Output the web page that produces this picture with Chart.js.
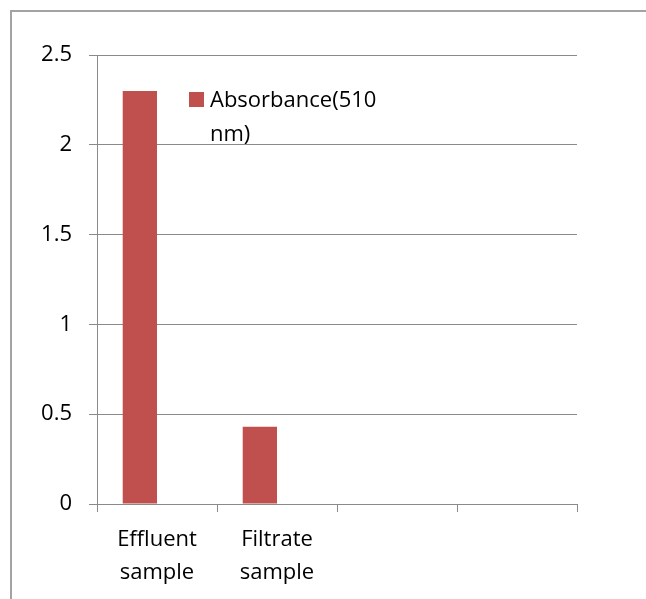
<!DOCTYPE html>
<html>
<head>
<meta charset="utf-8">
<script src="https://cdn.jsdelivr.net/npm/chart.js@4/dist/chart.umd.min.js"></script>
<style>
  html, body { margin: 0; padding: 0; background: #fff; overflow: hidden; }
  #wrap { position: relative; width: 646px; height: 599px; overflow: hidden; }
  #frame { position: absolute; left: 10px; top: 10px; width: 700px; height: 700px;
           border-left: 2px solid #a3a3a3; border-top: 2px solid #a3a3a3; box-sizing: border-box; }
  canvas { position: absolute; left: 0; top: 0; }
</style>
</head>
<body>
<div id="wrap">
  <div id="frame"></div>
  <canvas id="c" width="646" height="599"></canvas>
</div>
<script>
// Samples on the category axis (two extra empty slots)
const categories = [['Effluent', 'sample'], ['Filtrate', 'sample'], '', ''];
// Absorbance readings at 510 nm
const absorbance = [2.3, 0.43, null, null];
// Second series of the workbook, left empty
const secondSeries = [null, null, null, null];
const seriesName = 'Absorbance(510 nm)';
const yTicks = { min: 0, max: 2.5, step: 0.5 };

const FONT = { family: "'Open Sans', sans-serif", size: 22 };
const LINE = '#8a8a8a';
const BAR = '#C0504D';

// Wrapped legend drawn inside the plot area
const legendInside = {
  id: 'legendInside',
  afterDraw(chart) {
    const ctx = chart.ctx;
    const a = chart.chartArea;
    const x = a.left + 92, y = a.top + 37;
    ctx.save();
    ctx.fillStyle = BAR;
    ctx.fillRect(x, y, 15, 15);
    ctx.font = FONT.size + 'px ' + FONT.family;
    ctx.fillStyle = '#000';
    ctx.textBaseline = 'alphabetic';
    ctx.textAlign = 'left';
    const words = seriesName.split(' ');
    const lines = [];
    let cur = '';
    words.forEach(w => {
      const t = cur ? cur + ' ' + w : w;
      if (cur && ctx.measureText(t).width > 180) { lines.push(cur); cur = w; }
      else cur = t;
    });
    lines.push(cur);
    lines.forEach((ln, i) => ctx.fillText(ln, x + 21, y + 15 + i * 34));
    ctx.restore();
  }
};

new Chart(document.getElementById('c'), {
  type: 'bar',
  data: {
    labels: categories,
    datasets: [
      { label: seriesName, data: absorbance, backgroundColor: BAR, borderWidth: 0,
        categoryPercentage: 2 / 3.5, barPercentage: 1 },
      { label: '', data: secondSeries, backgroundColor: '#4F81BD', borderWidth: 0,
        categoryPercentage: 2 / 3.5, barPercentage: 1 }
    ]
  },
  options: {
    responsive: false,
    animation: false,
    devicePixelRatio: 1,
    layout: { padding: { top: 55, right: 69, bottom: 0, left: 0 } },
    plugins: { legend: { display: false }, tooltip: { enabled: false } },
    scales: {
      x: {
        grid: { display: true, drawOnChartArea: false, drawTicks: true, tickLength: 8, color: LINE, lineWidth: 1, offset: true },
        border: { display: true, color: LINE, width: 1 },
        ticks: { color: '#000', font: { ...FONT, lineHeight: 1.5 }, padding: 11, maxRotation: 0, autoSkip: false },
        afterFit(s) { s.height = 95; }
      },
      y: {
        min: yTicks.min, max: yTicks.max,
        grid: { color: LINE, lineWidth: 1, tickLength: 8, drawTicks: true },
        border: { display: true, color: LINE, width: 1 },
        ticks: { stepSize: yTicks.step, color: '#000', font: FONT, padding: 17,
                 callback: v => String(v) },
        afterFit(s) { s.width = 97; }
      }
    }
  },
  plugins: [legendInside]
});
</script>
</body>
</html>
